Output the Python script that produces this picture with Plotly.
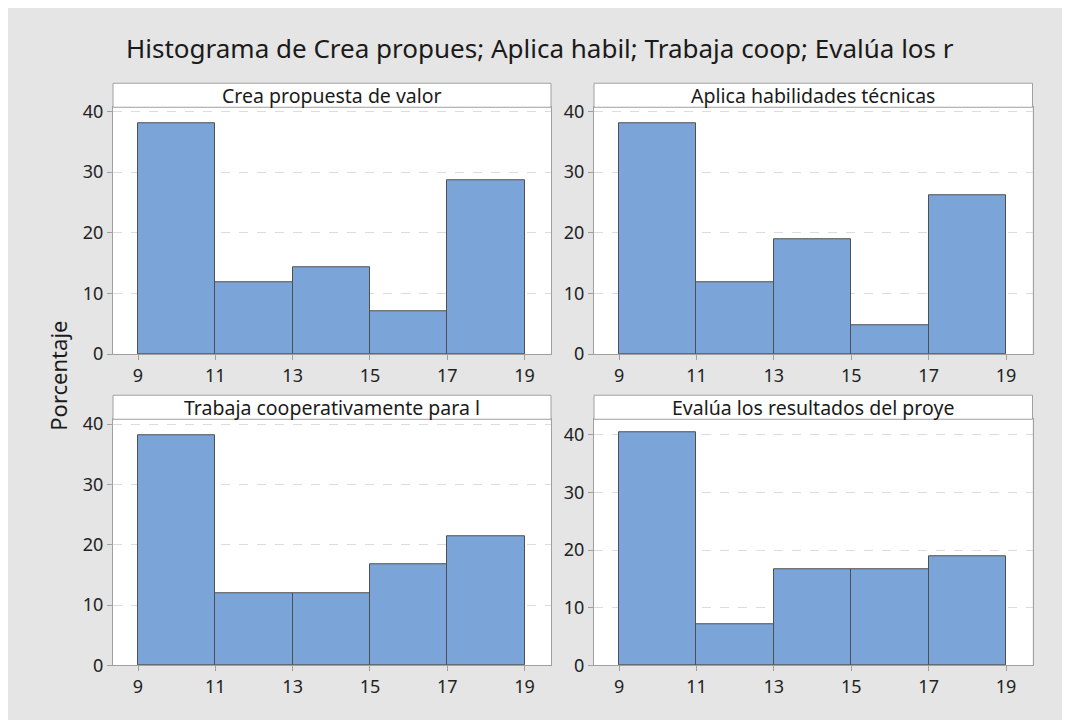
import plotly.graph_objects as go

bin_centers = [10, 12, 14, 16, 18]
bin_width = 2
tick_vals = [9, 11, 13, 15, 17, 19]

crea = [38.1, 11.9, 14.3, 7.1, 28.6]
aplica = [38.1, 11.9, 19.0, 4.8, 26.2]
trabaja = [38.1, 11.9, 11.9, 16.7, 21.4]
evalua = [40.5, 7.1, 16.7, 16.7, 19.0]

panel_titles = ["Crea propuesta de valor", "Aplica habilidades técnicas",
                "Trabaja cooperativamente para l", "Evalúa los resultados del proye"]
series = [crea, aplica, trabaja, evalua]
y_tops = [40.7, 40.7, 40.8, 42.7]

W, H = 1054, 720
FONT = "Noto Sans"
# measured mapping from layout pixels to the photographed page
X_OFF = 8
Y_OFF, Y_SCALE = 15.5, 0.973


def px(v):
    return (v - X_OFF) / W


def py(v):
    return 1 - ((v - Y_OFF) / Y_SCALE) / H


xdoms = [(px(113), px(551)), (px(594), px(1032.5)), (px(113), px(551)), (px(594), px(1032.5))]
ydoms = [(py(353.3), py(106.7)), (py(353.3), py(106.7)),
         (py(664.5), py(418.5)), (py(664.5), py(418.5))]
header_frac = (24 / Y_SCALE) / H

fig = go.Figure()
layout = dict(
    width=W, height=H,
    margin=dict(l=0, r=0, t=0, b=0),
    paper_bgcolor="#e5e5e5",
    plot_bgcolor="white",
    showlegend=False,
    font=dict(family=FONT, color="#222222"),
    bargap=0,
)
shapes = []
annotations = []

for i, (vals, title) in enumerate(zip(series, panel_titles)):
    k = "" if i == 0 else str(i + 1)
    xa, ya = "x" + k, "y" + k
    fig.add_trace(go.Bar(
        x=bin_centers, y=vals, width=bin_width, xaxis=xa, yaxis=ya,
        marker=dict(color="#7ba5d8", line=dict(color="#4f4f4f", width=1)),
        hoverinfo="x+y",
    ))
    layout["xaxis" + k] = dict(
        domain=list(xdoms[i]), anchor=ya, range=[8.353, 19.683],
        tickvals=tick_vals, ticks="outside", ticklen=5, tickcolor="#a0a0a0",
        showline=True, linecolor="#a0a0a0", linewidth=1, mirror=True,
        showgrid=False, zeroline=False,
        tickfont=dict(size=18, color="#222222", family=FONT),
    )
    layout["yaxis" + k] = dict(
        domain=list(ydoms[i]), anchor=xa, range=[0, y_tops[i]],
        tickvals=[0, 10, 20, 30, 40], ticks="outside", ticklen=5, tickcolor="#a0a0a0",
        showline=True, linecolor="#a0a0a0", linewidth=1, mirror=True,
        showgrid=True, gridcolor="#dcdcdc", griddash="dash", gridwidth=1,
        zeroline=False,
        tickfont=dict(size=18, color="#222222", family=FONT),
    )
    x0, x1 = xdoms[i]
    ytop = ydoms[i][1]
    shapes.append(dict(type="rect", xref="paper", yref="paper",
                       x0=x0, x1=x1, y0=ytop, y1=ytop + header_frac,
                       fillcolor="white", line=dict(color="#a0a0a0", width=1)))
    annotations.append(dict(text=title, xref="paper", yref="paper",
                            x=(x0 + x1) / 2, y=ytop + header_frac / 2,
                            xanchor="center", yanchor="middle", showarrow=False,
                            font=dict(size=19.5, color="#1a1a1a", family=FONT)))

annotations.append(dict(text="Histograma de Crea propues; Aplica habil; Trabaja coop; Evalúa los r",
                        xref="paper", yref="paper", x=px(540), y=py(47),
                        xanchor="center", yanchor="middle", showarrow=False,
                        font=dict(size=26, color="#1a1a1a", family=FONT)))
annotations.append(dict(text="Porcentaje", xref="paper", yref="paper", x=px(58), y=py(375),
                        xanchor="center", yanchor="middle", showarrow=False, textangle=-90,
                        font=dict(size=22, color="#1a1a1a", family=FONT)))

layout["shapes"] = shapes
layout["annotations"] = annotations
fig.update_layout(**layout)
fig.write_html("out.html")
